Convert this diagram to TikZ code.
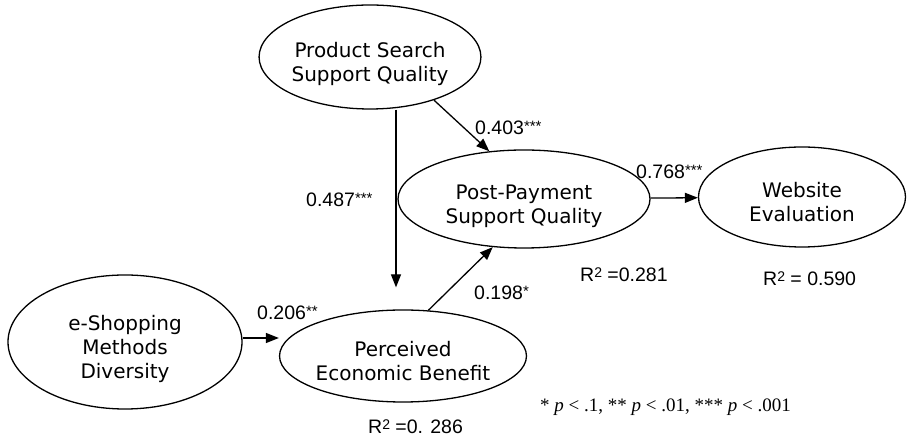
\documentclass[tikz,border=0pt]{standalone}
\usepackage{fontspec}
\setmainfont{Liberation Sans}
\newfontfamily\nodefont{DejaVu Sans}
\newfontfamily\notefont{Liberation Serif}
\usetikzlibrary{shapes.geometric,arrows.meta}

\newcommand{\stars}[1]{\raisebox{3pt}{\fontsize{15}{15}\selectfont #1}}
\newcommand{\rsq}{R\raisebox{4pt}{\fontsize{14}{14}\selectfont 2}}
\newcommand{\lines}[1]{\raisebox{0pt}[\dimexpr\height+16pt\relax][\depth]{\begin{tabular}{@{}c@{}}#1\end{tabular}}}

\tikzset{
    construct/.style={draw,ellipse,line width=1.3pt,inner sep=0pt,
        font=\nodefont\fontsize{20}{24}\selectfont},
    link/.style={line width=1.3pt,-{Triangle[length=13pt,width=10pt]}},
    coef/.style={anchor=west,inner sep=0pt,font=\fontsize{19.5}{22}\selectfont}
}

\begin{document}
\begin{tikzpicture}[x=1pt,y=1pt]
        \useasboundingbox (0,0) rectangle (907,438);
        \node[construct,minimum width=220pt,minimum height=104pt] (pssq) at (370,381) {\lines{Product Search\\Support Quality}};
        \node[construct,minimum width=252pt,minimum height=98pt] (ppsq) at (524,239) {\lines{Post-Payment\\Support Quality}};
        \node[construct,minimum width=207pt,minimum height=100pt] (web) at (802,241) {\lines{Website\\Evaluation}};
        \node[construct,minimum width=234pt,minimum height=134pt] (esmd) at (125,96) {\lines{e-Shopping\\Methods\\Diversity}};
        \node[construct,minimum width=242pt,minimum height=92pt] (peb) at (403,82) {\lines{Perceived\\Economic Benefit}};

        \foreach \a/\b in {pssq.-34/ppsq.126,peb.61/ppsq.237,ppsq/web}{
            \draw[link] (\a) -- (\b);
        }
        \draw[link,shorten >=22pt] ([xshift=26pt]pssq.south) -- ([xshift=-7pt]peb.north);
        \draw[link] ([yshift=4pt]esmd.east) -- ([yshift=4pt]esmd.east -| peb.west);

        % path coefficients
        \node[coef] (c1) at (475,310) {0.403\stars{***}};
        \node[coef] (c2) at (306,238) {0.487\stars{***}};
        \node[coef] (c3) at (636,266) {0.768\stars{***}};
        \node[coef] (c4) at (474,145) {0.198\stars{*}};
        \node[coef] (c5) at (257,125) {0.206\stars{**}};

        % explained variance
        \node[coef] (r1) at (580,163) {\rsq{} =0.281};
        \node[coef] (r2) at (763,159) {\rsq{} = 0.590};
        \node[coef] (r3) at (368,11) {\rsq{} =0. 286};

        \node[coef,font=\notefont\fontsize{19}{22}\selectfont] (note) at (540,31)
            {* \textit{p} < .1, ** \textit{p} < .01, *** \textit{p} < .001};
    \end{tikzpicture}
\end{document}
